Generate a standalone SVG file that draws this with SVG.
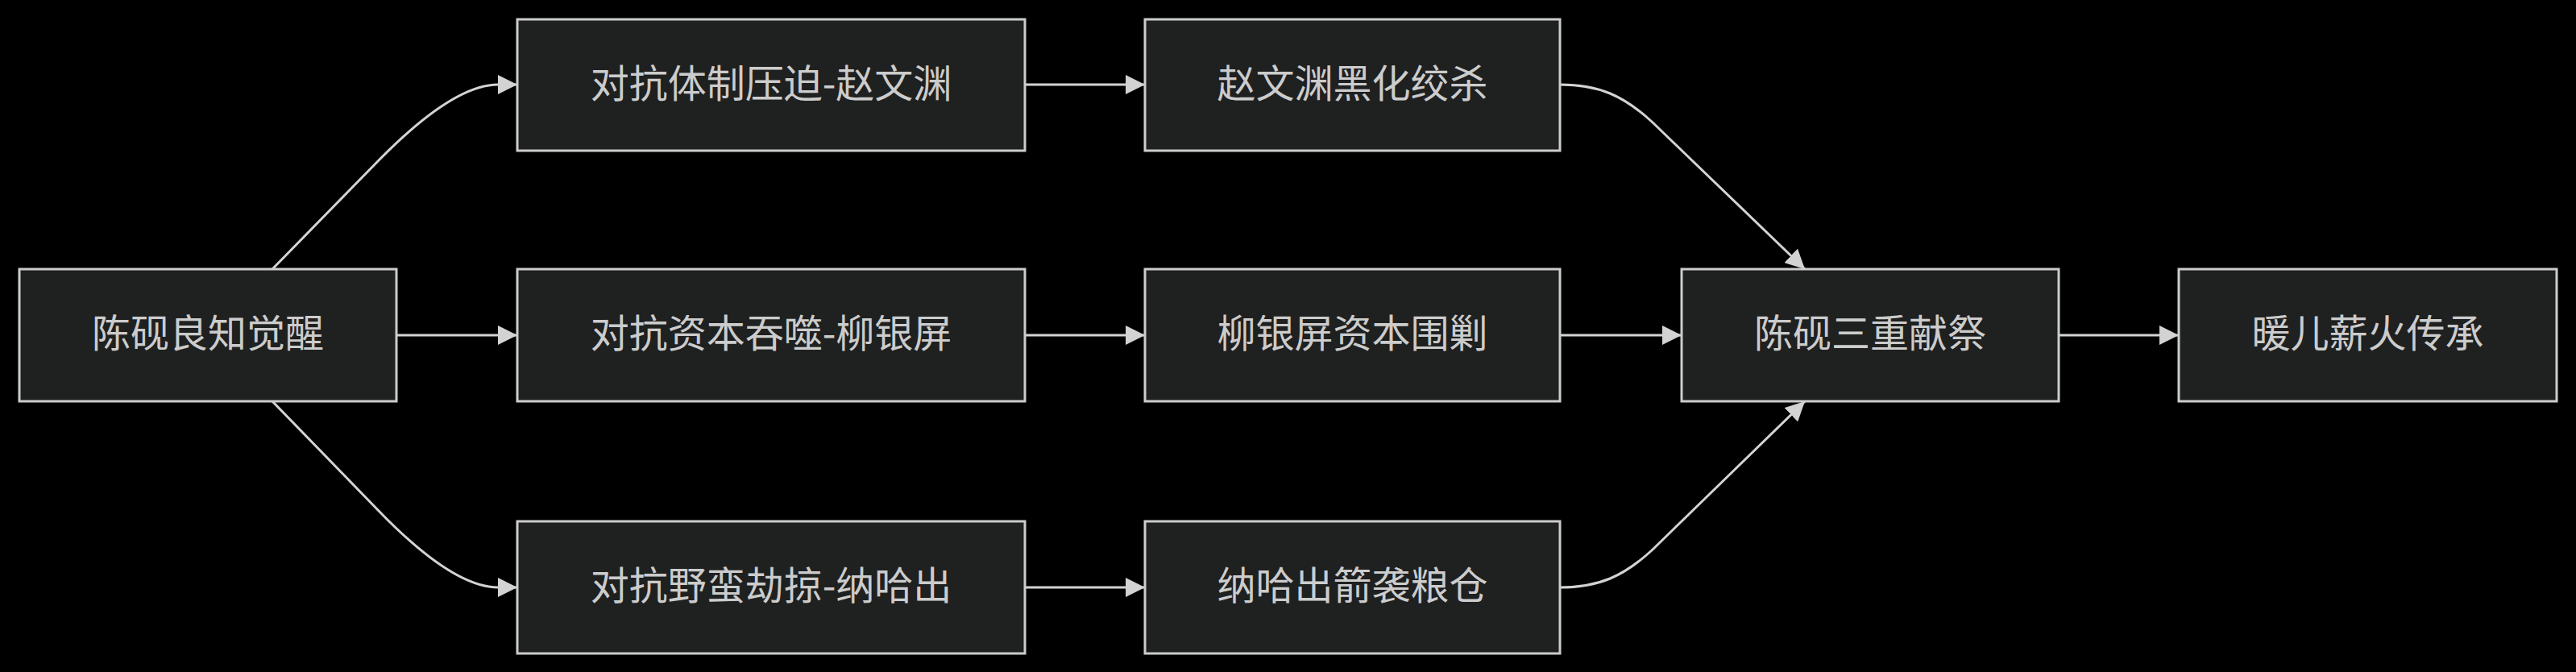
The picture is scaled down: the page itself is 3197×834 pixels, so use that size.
<svg xmlns="http://www.w3.org/2000/svg" width="3197" height="834" viewBox="0 0 3197 834">
<style>
.node rect{fill:#1f2020;stroke:#cccccc;stroke-width:3}
.node text{font-family:"Noto Sans CJK SC","Noto Sans",sans-serif;font-size:48px;fill:#cccccc;text-anchor:middle}
.edge{fill:none;stroke:#d3d3d3;stroke-width:3;marker-end:url(#arrow)}
</style>
<defs>
<marker id="arrow" markerUnits="userSpaceOnUse" markerWidth="24" markerHeight="24" viewBox="0 0 24 24" refX="24" refY="12" orient="auto">
<path d="M0,0 L24,12 L0,24 z" fill="#d3d3d3"/>
</marker>
</defs>
<rect width="3197" height="834" fill="#000000"/>
<g id="connectors">
<path class="edge" d="M338,334 L470,199 C530,138 580,105 618,105 L642,105"/>
<path class="edge" d="M492,416 L642,416"/>
<path class="edge" d="M338,498 L470,634 C530,696 580,729 618,729 L642,729"/>
<path class="edge" d="M1272,105 L1421,105"/>
<path class="edge" d="M1272,416 L1421,416"/>
<path class="edge" d="M1272,729 L1421,729"/>
<path class="edge" d="M1936,105 C1985,105 2015,119 2050,151 L2240,334"/>
<path class="edge" d="M1936,416 L2087,416"/>
<path class="edge" d="M1936,729 C1985,729 2015,715 2050,683 L2240,498"/>
<path class="edge" d="M2555,416 L2704,416"/>
</g>
<g id="n_awaken" class="node"><rect x="24" y="334" width="468" height="164"/><text x="258" y="431">陈砚良知觉醒</text></g>
<g id="n_system" class="node"><rect x="642" y="24" width="630" height="163"/><text x="957" y="120.5">对抗体制压迫-赵文渊</text></g>
<g id="n_capital" class="node"><rect x="642" y="334" width="630" height="164"/><text x="957" y="431">对抗资本吞噬-柳银屏</text></g>
<g id="n_barbarian" class="node"><rect x="642" y="647" width="630" height="164"/><text x="957" y="744">对抗野蛮劫掠-纳哈出</text></g>
<g id="n_zhao" class="node"><rect x="1421" y="24" width="515" height="163"/><text x="1678.5" y="120.5">赵文渊黑化绞杀</text></g>
<g id="n_liu" class="node"><rect x="1421" y="334" width="515" height="164"/><text x="1678.5" y="431">柳银屏资本围剿</text></g>
<g id="n_naha" class="node"><rect x="1421" y="647" width="515" height="164"/><text x="1678.5" y="744">纳哈出箭袭粮仓</text></g>
<g id="n_sacrifice" class="node"><rect x="2087" y="334" width="468" height="164"/><text x="2321" y="431">陈砚三重献祭</text></g>
<g id="n_legacy" class="node"><rect x="2704" y="334" width="469" height="164"/><text x="2938.5" y="431">暖儿薪火传承</text></g>
</svg>
